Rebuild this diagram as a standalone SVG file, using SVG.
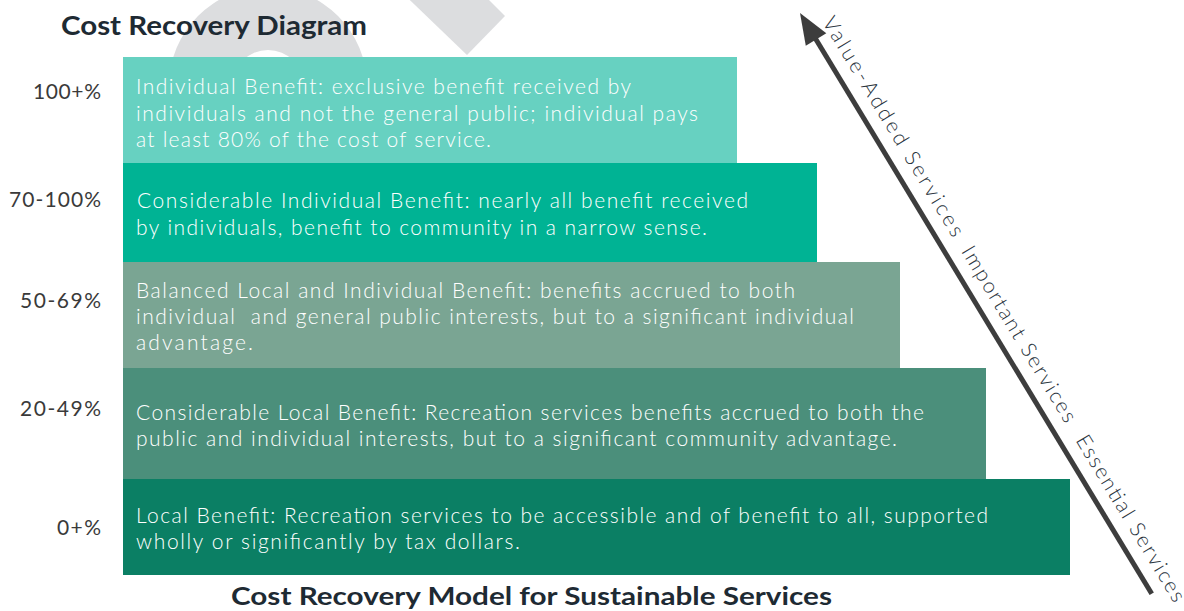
<svg xmlns="http://www.w3.org/2000/svg" width="1184" height="611" viewBox="0 0 1184 611">
  <style>
    .bt { font-family: Lato, "Liberation Sans", sans-serif; font-weight: 300; font-size: 21px; fill: #ffffff; }
    .lbl { font-family: Lato, "Liberation Sans", sans-serif; font-weight: 400; font-size: 21px; fill: #3a3a3a; text-anchor: end; }
    .ttl { font-family: Lato, "Liberation Sans", sans-serif; font-weight: 700; fill: #1e2a33; }
    .rot { font-family: Lato, "Liberation Sans", sans-serif; font-weight: 300; font-size: 21px; fill: #2a343d; }
    .wm { fill: #dcdddf; }
  </style>
  <defs>
    <marker id="ah" viewBox="0 0 10 10" refX="0" refY="5" markerWidth="6" markerHeight="5" markerUnits="strokeWidth" orient="auto">
      <path d="M0,0 L10,5 L0,10 Z" fill="#3d3d3d"/>
    </marker>
  </defs>
  <rect width="1184" height="611" fill="#ffffff"/>

  <g id="watermark">
    <path class="wm" fill-rule="evenodd" d="M169,86 A99,99 0 1 1 367,86 A99,99 0 1 1 169,86 Z M232,86 A36,36 0 1 0 304,86 A36,36 0 1 0 232,86 Z"/>
    <polygon class="wm" points="389,-20 467,55 505,16 469,-20"/>
  </g>

  <g id="title">
    <text class="ttl" x="61" y="35" font-size="26" textLength="306" lengthAdjust="spacingAndGlyphs">Cost Recovery Diagram</text>
  </g>

  <g id="bar-100">
    <rect x="123" y="57" width="614" height="106" fill="#67d1c1"/>
    <text class="bt" x="136" y="94" textLength="495">Individual Benefit: exclusive benefit received by</text>
    <text class="bt" x="136" y="121" textLength="562">individuals and not the general public; individual pays</text>
    <text class="bt" x="136" y="147" textLength="355">at least 80% of the cost of service.</text>
  </g>
  <g id="bar-70">
    <rect x="123" y="163" width="694" height="99" fill="#00b394"/>
    <text class="bt" x="137" y="208" textLength="611">Considerable Individual Benefit: nearly all benefit received</text>
    <text class="bt" x="136" y="235" textLength="571">by individuals, benefit to community in a narrow sense.</text>
  </g>
  <g id="bar-50">
    <rect x="123" y="262" width="777" height="106" fill="#7aa593"/>
    <text class="bt" x="136" y="298" textLength="659">Balanced Local and Individual Benefit: benefits accrued to both</text>
    <text class="bt" x="136" y="324" textLength="718" xml:space="preserve">individual  and general public interests, but to a significant individual</text>
    <text class="bt" x="136" y="350" textLength="117">advantage.</text>
  </g>
  <g id="bar-20">
    <rect x="123" y="368" width="863" height="111" fill="#4b8f7b"/>
    <text class="bt" x="136" y="420" textLength="788">Considerable Local Benefit: Recreation services benefits accrued to both the</text>
    <text class="bt" x="136" y="446" textLength="761">public and individual interests, but to a significant community advantage.</text>
  </g>
  <g id="bar-0">
    <rect x="123" y="479" width="947" height="96" fill="#0b7f64"/>
    <text class="bt" x="136" y="523" textLength="852">Local Benefit: Recreation services to be accessible and of benefit to all, supported</text>
    <text class="bt" x="136" y="549" textLength="384">wholly or significantly by tax dollars.</text>
  </g>

  <g id="labels">
    <text class="lbl" x="101" y="99" textLength="68">100+%</text>
    <text class="lbl" x="101" y="207" textLength="92">70-100%</text>
    <text class="lbl" x="101" y="308" textLength="81">50-69%</text>
    <text class="lbl" x="101" y="416" textLength="81">20-49%</text>
    <text class="lbl" x="101" y="535" textLength="44">0+%</text>
  </g>

  <g id="connectors">
    <g transform="translate(800,13) rotate(58.8)">
      <line x1="679" y1="0" x2="28" y2="0" stroke="#3d3d3d" stroke-width="5"/>
      <polygon points="0,0 31,-12 31,12" fill="#3d3d3d"/>
    </g>
  </g>

  <g id="axis-labels" transform="translate(800,13) rotate(58.8)">
    <text class="rot" x="19" y="-14" textLength="253">Value-Added Services</text>
    <text class="rot" x="287" y="-14" textLength="202">Important Services</text>
    <text class="rot" x="508" y="-14" textLength="191">Essential Services</text>
  </g>

  <g id="caption">
    <text class="ttl" x="231" y="605" font-size="25" textLength="601" lengthAdjust="spacingAndGlyphs">Cost Recovery Model for Sustainable Services</text>
  </g>
</svg>
